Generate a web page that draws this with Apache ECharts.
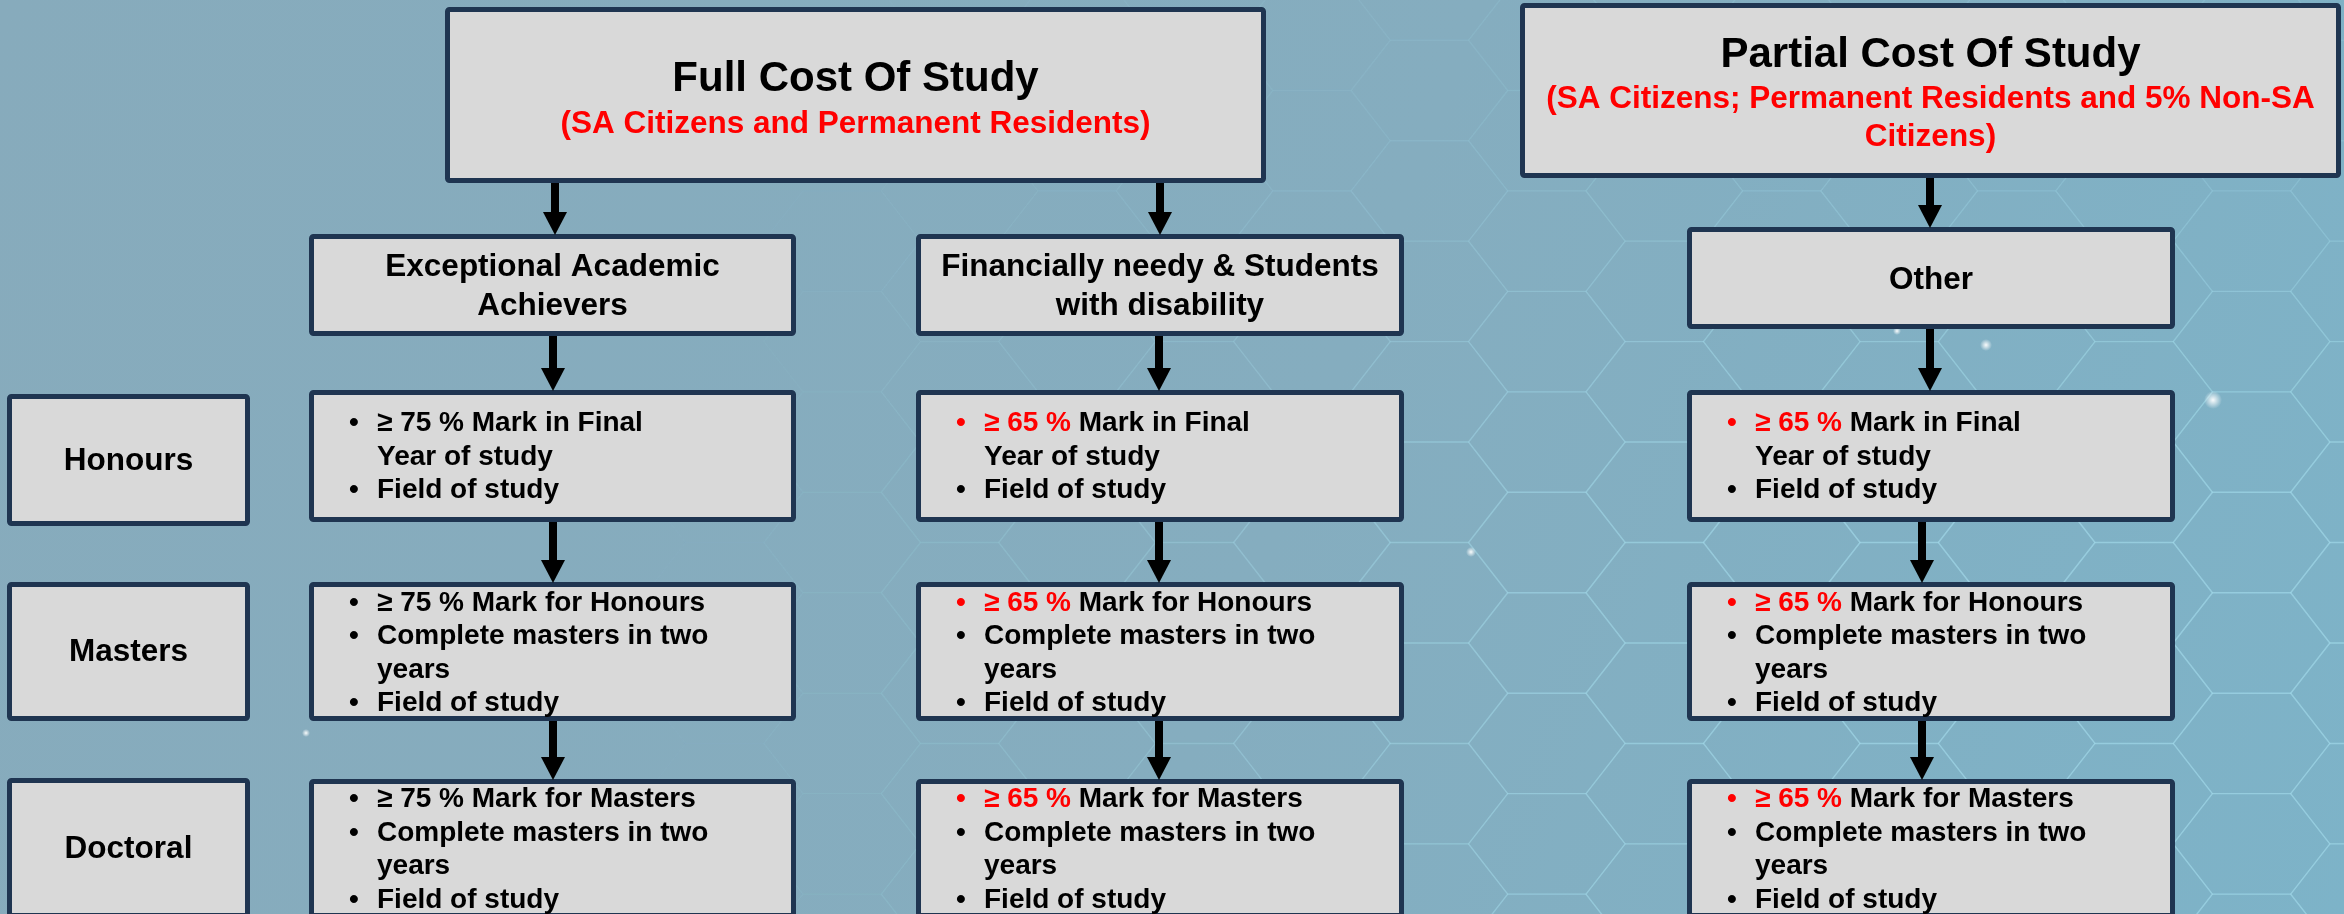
<!DOCTYPE html>
<html><head><meta charset="utf-8">
<script src="https://cdn.jsdelivr.net/npm/echarts@6/dist/echarts.min.js"></script>
<style>html,body{margin:0;padding:0;background:#87abbc}#c{width:2344px;height:914px}</style>
</head><body><div id="c"></div>
<script>
// ---------- content ----------
const fundingTitles = ['Full Cost Of Study', 'Partial Cost Of Study'];
const fundingSubtitles = [
  ['(SA Citizens and Permanent Residents)'],
  ['(SA Citizens; Permanent Residents and 5% Non-SA', 'Citizens)']
];
const categories = [
  ['Exceptional Academic', 'Achievers'],
  ['Financially needy & Students', 'with disability'],
  ['Other']
];
const levels = ['Honours', 'Masters', 'Doctoral'];
const thresholds = ['≥ 75 %', '≥ 65 %', '≥ 65 %'];
const thresholdHighlighted = [false, true, true];
const levelCriteria = [
  [['Mark in Final', 'Year of study'], ['Field of study']],
  [['Mark for Honours'], ['Complete masters in two', 'years'], ['Field of study']],
  [['Mark for Masters'], ['Complete masters in two', 'years'], ['Field of study']]
];
// which funding box feeds each category column
const categoryParent = [0, 0, 1];

// ---------- layout (pixels of the 2344x914 canvas) ----------
const W = 2344, H = 914;
const LAYOUT = {
  funding: [[445, 7, 1266, 183], [1520, 3, 2341, 178]],
  fundingTitleY: [79, 55],
  fundingSubY: [[124], [99, 137]],
  category: [[309, 234, 796, 336], [916, 234, 1404, 336], [1687, 227, 2175, 329]],
  colX: [[309, 796], [916, 1404], [1687, 2175]],
  rowY: [[390, 522], [582, 721], [779, 918]],
  rowTextCY: [457, 653.5, 850],
  labelX: [7, 250],
  labelY: [[394, 526], [582, 721], [778, 918]],
  arrowX1: [555, 1160, 1930],   // funding -> category
  arrowX2: [553, 1159, 1930],   // category -> honours
  arrowX3: [553, 1159, 1922]    // between levels
};
const FONT = '"Liberation Sans", Arial, Helvetica, sans-serif';
const BOX_FILL = '#d9d9d9', BOX_STROKE = '#1f3551', BW = 5;
const RED = '#ff0000';

// ---------- node list ----------
const nodes = [];
fundingTitles.forEach((t, i) => nodes.push({kind: 'funding', i}));
categories.forEach((c, i) => nodes.push({kind: 'category', i}));
levels.forEach((l, r) => {
  nodes.push({kind: 'label', r});
  categories.forEach((c, col) => nodes.push({kind: 'criteria', r, col}));
});
categories.forEach((c, col) => {
  const p = LAYOUT.funding[categoryParent[col]];
  nodes.push({kind: 'arrow', x: LAYOUT.arrowX1[col], y0: p[3], y1: LAYOUT.category[col][1]});
  nodes.push({kind: 'arrow', x: LAYOUT.arrowX2[col], y0: LAYOUT.category[col][3], y1: LAYOUT.rowY[0][0]});
  for (let r = 0; r < levels.length - 1; r++) {
    nodes.push({kind: 'arrow', x: LAYOUT.arrowX3[col], y0: LAYOUT.rowY[r][1], y1: LAYOUT.rowY[r + 1][0]});
  }
});

function boxEl(api, x0, y0, x1, y1) {
  const a = api.coord([x0, y0]), b = api.coord([x1, y1]);
  return {
    type: 'rect',
    shape: {x: a[0] + BW / 2, y: a[1] + BW / 2, width: b[0] - a[0] - BW, height: b[1] - a[1] - BW, r: 2},
    style: {fill: BOX_FILL, stroke: BOX_STROKE, lineWidth: BW}
  };
}
function textEl(api, x, y, text, size, color, align, rich) {
  const p = api.coord([x, y]);
  const st = {
    text, x: p[0], y: p[1], fill: color || '#000',
    fontSize: size, fontWeight: 'bold', fontFamily: FONT,
    align: align || 'center', verticalAlign: 'middle'
  };
  if (rich) st.rich = rich;
  return {type: 'text', style: st};
}

function renderItem(params, api) {
  const n = nodes[params.dataIndex];
  const ch = [];
  if (n.kind === 'funding') {
    const b = LAYOUT.funding[n.i];
    const cx = (b[0] + b[2]) / 2;
    ch.push(boxEl(api, b[0], b[1], b[2], b[3]));
    ch.push(textEl(api, cx, LAYOUT.fundingTitleY[n.i], fundingTitles[n.i], 42, '#000'));
    fundingSubtitles[n.i].forEach((s, k) => ch.push(textEl(api, cx, LAYOUT.fundingSubY[n.i][k], s, 31.5, RED)));
  } else if (n.kind === 'category') {
    const b = LAYOUT.category[n.i];
    const cx = (b[0] + b[2]) / 2, cy = (b[1] + b[3]) / 2 + 2;
    ch.push(boxEl(api, b[0], b[1], b[2], b[3]));
    const lines = categories[n.i];
    lines.forEach((t, k) => ch.push(textEl(api, cx, cy + (k - (lines.length - 1) / 2) * 39, t, 31.5, '#000')));
  } else if (n.kind === 'label') {
    const y = LAYOUT.labelY[n.r];
    ch.push(boxEl(api, LAYOUT.labelX[0], y[0], LAYOUT.labelX[1], y[1]));
    ch.push(textEl(api, (LAYOUT.labelX[0] + LAYOUT.labelX[1]) / 2, (y[0] + y[1]) / 2 + 1, levels[n.r], 31.5, '#000'));
  } else if (n.kind === 'criteria') {
    const xr = LAYOUT.colX[n.col], yr = LAYOUT.rowY[n.r];
    ch.push(boxEl(api, xr[0], yr[0], xr[1], yr[1]));
    const lines = [];
    levelCriteria[n.r].forEach((crit, k) => {
      crit.forEach((t, j) => lines.push({bullet: j === 0, first: k === 0 && j === 0, t}));
    });
    const hl = thresholdHighlighted[n.col];
    const cy = LAYOUT.rowTextCY[n.r];
    lines.forEach((ln, k) => {
      const y = cy + (k - (lines.length - 1) / 2) * 33.5;
      if (ln.bullet) ch.push(textEl(api, xr[0] + 45, y, '•', 28, (ln.first && hl) ? RED : '#000', 'center'));
      if (ln.first) {
        ch.push(textEl(api, xr[0] + 68, y, '{r|' + thresholds[n.col] + '} ' + ln.t, 28, '#000', 'left',
          {r: {fill: hl ? RED : '#000', fontSize: 28, fontWeight: 'bold', fontFamily: FONT}}));
      } else {
        ch.push(textEl(api, xr[0] + 68, y, ln.t, 28, '#000', 'left'));
      }
    });
  } else if (n.kind === 'arrow') {
    const a = api.coord([n.x, n.y0]), b = api.coord([n.x, n.y1]);
    const headH = 22, headW = 12;
    ch.push({type: 'line', shape: {x1: a[0], y1: a[1], x2: b[0], y2: b[1] - headH + 2},
      style: {stroke: '#000', lineWidth: 8}});
    ch.push({type: 'polygon', shape: {points: [[b[0] - headW, b[1] - headH], [b[0] + headW, b[1] - headH], [b[0], b[1] + 1]]},
      style: {fill: '#000'}});
  }
  return {type: 'group', children: ch};
}

// ---------- decorative hexagon mesh + glints in the background ----------
const deco = [];
(function () {
  const R = 58, sx = 1.35;           // flat-top hexagons, stretched horizontally
  const colStep = 1.5 * R * sx, rowStep = Math.sqrt(3) * R;
  for (let col = -1; col < 30; col++) {
    for (let row = -1; row < 10; row++) {
      const cx = col * colStep + 20;
      const cy = row * rowStep + (col % 2 ? rowStep / 2 : 0) - 10;
      const t = Math.max(0, Math.min(1, (cx - 650) / 1100));
      const v = Math.max(0, Math.min(1, (cy - 120) / 350));
      const alpha = 0.32 * t * (0.3 + 0.7 * v);
      if (alpha < 0.02) continue;
      const pts = [];
      for (let k = 0; k < 6; k++) {
        const ang = k * Math.PI / 3;
        pts.push([cx + R * sx * Math.cos(ang), cy + R * Math.sin(ang)]);
      }
      deco.push({type: 'polygon', silent: true, z: -10, shape: {points: pts},
        style: {fill: 'none', stroke: 'rgba(170,228,242,' + alpha.toFixed(3) + ')', lineWidth: 1.4}});
    }
  }
  [[2213, 400, 9], [1986, 345, 6], [1897, 331, 4], [1471, 552, 5], [306, 733, 4], [2060, 430, 3]].forEach(d => {
    deco.push({type: 'circle', silent: true, z: -9, shape: {cx: d[0], cy: d[1], r: d[2]},
      style: {fill: {type: 'radial', x: 0.5, y: 0.5, r: 0.5,
        colorStops: [{offset: 0, color: 'rgba(255,255,255,0.95)'}, {offset: 1, color: 'rgba(255,255,255,0)'}]}}});
  });
})();

const chart = echarts.init(document.getElementById('c'), null, {renderer: 'canvas'});
chart.setOption({
  animation: false,
  backgroundColor: {
    type: 'linear', x: 0, y: 0, x2: 1, y2: 1,
    colorStops: [{offset: 0, color: '#87abbc'}, {offset: 0.55, color: '#85adbf'}, {offset: 1, color: '#7db3c8'}]
  },
  graphic: deco,
  grid: {left: 0, right: 0, top: 0, bottom: 0},
  xAxis: {type: 'value', min: 0, max: W, show: false},
  yAxis: {type: 'value', min: 0, max: H, inverse: true, show: false},
  series: [{
    type: 'custom',
    renderItem,
    data: nodes.map((n, i) => [i]),
    encode: {x: [], y: []},
    clip: false,
    silent: true,
    z: 5
  }]
});
</script>
</body></html>
